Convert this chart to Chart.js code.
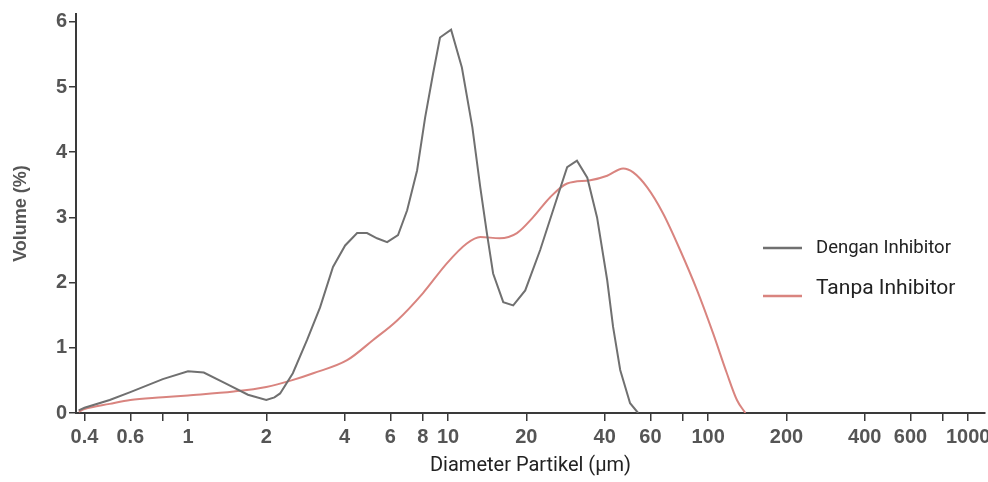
<!DOCTYPE html>
<html>
<head>
<meta charset="utf-8">
<script src="https://cdn.jsdelivr.net/npm/chart.js@4.4.1/dist/chart.umd.min.js"></script>
<style>
  html, body { margin: 0; padding: 0; background: #fff; }
  #wrap { width: 988px; height: 482px; }
</style>
</head>
<body>
<div id="wrap"><canvas id="psdChart" width="988" height="482"></canvas></div>
<script>
// diameter (µm) and volume (%)
const diaDengan = [0.38, 0.4, 0.5, 0.6, 0.8, 1.0, 1.15, 1.4, 1.7, 2.0, 2.15, 2.26, 2.53, 2.87, 3.22, 3.61, 4.02, 4.47, 4.88, 5.33, 5.83, 6.42, 6.96, 7.6, 8.16, 8.75, 9.31, 10.27, 11.3, 12.4, 13.3, 14.1, 14.9, 16.3, 17.8, 19.8, 22.6, 26.3, 28.7, 31.3, 34.3, 37.4, 40.9, 43.1, 45.9, 50.1, 53.8];
const volDengan = [0.04, 0.08, 0.2, 0.32, 0.52, 0.64, 0.62, 0.45, 0.28, 0.2, 0.24, 0.3, 0.61, 1.12, 1.62, 2.24, 2.57, 2.76, 2.76, 2.68, 2.62, 2.73, 3.11, 3.72, 4.53, 5.2, 5.76, 5.88, 5.3, 4.38, 3.46, 2.76, 2.14, 1.7, 1.65, 1.88, 2.5, 3.31, 3.77, 3.87, 3.61, 3.0, 2.04, 1.32, 0.66, 0.15, 0.0];

const diaTanpa = [0.38, 0.4, 0.5, 0.6, 0.8, 1.0, 1.5, 2.0, 2.5, 3.03, 4.09, 5.15, 6.37, 8.01, 9.91, 11.8, 13.3, 15.8, 18.4, 21.2, 24.7, 28.7, 35.2, 40.9, 47.1, 51.5, 58.3, 67.1, 78.0, 90.7, 104.5, 118, 129, 139];
const volTanpa = [0.02, 0.06, 0.14, 0.2, 0.24, 0.27, 0.33, 0.4, 0.5, 0.61, 0.81, 1.12, 1.42, 1.84, 2.3, 2.6, 2.7, 2.68, 2.76, 3.0, 3.31, 3.52, 3.57, 3.64, 3.75, 3.69, 3.46, 3.06, 2.5, 1.88, 1.22, 0.61, 0.2, 0.0];

const xTicks = [0.4, 0.6, 0.8, 1, 2, 4, 6, 8, 10, 20, 40, 60, 80, 100, 200, 400, 600, 800, 1000];
const xTickLabels = ['0.4', '0.6', '', '1', '2', '4', '6', '8', '10', '20', '40', '60', '', '100', '200', '400', '600', '', '1000'];
const yTicks = [0, 1, 2, 3, 4, 5, 6];

const seriesNames = ['Dengan Inhibitor', 'Tanpa Inhibitor'];

const axisColor = '#3a3a3a';
const tickFont = { family: '"Liberation Sans", Arial, sans-serif', size: 20, weight: 'bold' };

// legend drawn inside the plot, on the right
const sideLegend = {
    id: 'sideLegend',
    afterDraw(chart) {
        const ctx = chart.ctx;
        const rows = [
            { lineY: 248, textY: 248, size: 18.5 },
            { lineY: 296, textY: 289, size: 21 }
        ];
        ctx.save();
        chart.data.datasets.forEach(function(ds, i) {
            const r = rows[i];
            ctx.strokeStyle = ds.borderColor;
            ctx.lineWidth = 2.5;
            ctx.beginPath();
            ctx.moveTo(763, r.lineY);
            ctx.lineTo(802, r.lineY);
            ctx.stroke();
            ctx.fillStyle = '#222';
            ctx.font = r.size + 'px Roboto, "Noto Sans", sans-serif';
            ctx.textBaseline = 'middle';
            ctx.textAlign = 'left';
            ctx.fillText(ds.label, 816, r.textY);
        });
        ctx.restore();
    }
};

const ctx = document.getElementById('psdChart').getContext('2d');
const psdChart = new Chart(ctx, {
    type: 'line',
    data: {
        datasets: [{
            label: seriesNames[0],
            data: diaDengan.map((d, i) => ({ x: d, y: volDengan[i] })),
            borderColor: '#707070',
            borderWidth: 2,
            pointRadius: 0,
            tension: 0,
            fill: false
        }, {
            label: seriesNames[1],
            data: diaTanpa.map((d, i) => ({ x: d, y: volTanpa[i] })),
            borderColor: '#d9847f',
            borderWidth: 2,
            pointRadius: 0,
            cubicInterpolationMode: 'monotone',
            fill: false
        }]
    },
    options: {
        responsive: false,
        animation: false,
        layout: { padding: { top: 14, right: 3, left: 0, bottom: 0 } },
        plugins: {
            legend: { display: false },
            tooltip: { enabled: false }
        },
        scales: {
            x: {
                type: 'logarithmic',
                min: 0.371,
                max: 1160,
                afterBuildTicks: function(axis) {
                    axis.ticks = xTicks.map(v => ({ value: v }));
                },
                afterFit: function(axis) {
                    axis.height = 69;
                    axis.paddingLeft = 0;
                    axis.paddingRight = 0;
                },
                ticks: {
                    autoSkip: false,
                    maxRotation: 0,
                    padding: 4,
                    color: '#555',
                    font: tickFont,
                    callback: function(value) {
                        const i = xTicks.indexOf(value);
                        return i >= 0 ? xTickLabels[i] : '';
                    }
                },
                grid: {
                    drawOnChartArea: false,
                    drawTicks: true,
                    tickLength: 8,
                    color: axisColor,
                    lineWidth: 1.5
                },
                border: { display: true, color: axisColor, width: 2 },
                title: {
                    display: true,
                    text: 'Diameter Partikel (µm)',
                    color: '#222',
                    font: { family: 'Roboto, "Noto Sans", sans-serif', size: 20 },
                    padding: { top: 0, bottom: 4 }
                }
            },
            y: {
                type: 'linear',
                min: 0,
                max: 6.12,
                afterBuildTicks: function(axis) {
                    axis.ticks = yTicks.map(v => ({ value: v }));
                },
                afterFit: function(axis) {
                    axis.width = 76;
                    axis.paddingTop = 0;
                    axis.paddingBottom = 0;
                },
                ticks: {
                    padding: 2,
                    color: '#555',
                    font: tickFont,
                    callback: function(value) { return String(value); }
                },
                grid: {
                    drawOnChartArea: false,
                    drawTicks: true,
                    tickLength: 7,
                    color: axisColor,
                    lineWidth: 1.5
                },
                border: { display: true, color: axisColor, width: 2 },
                title: {
                    display: true,
                    text: 'Volume (%)',
                    color: '#555',
                    font: { family: '"Liberation Sans", Arial, sans-serif', size: 18, weight: 'bold' },
                    padding: { top: 10, bottom: 0 }
                }
            }
        }
    },
    plugins: [sideLegend]
});
</script>
</body>
</html>
